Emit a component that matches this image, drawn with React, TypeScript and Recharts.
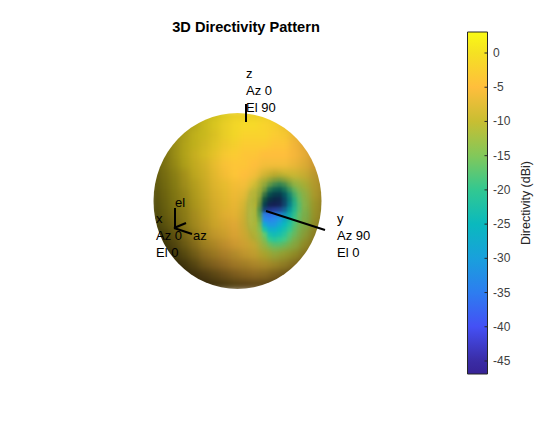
import {
  Bar,
  ComposedChart,
  ReferenceLine,
  Scatter,
  ScatterChart,
  XAxis,
  YAxis,
} from 'recharts';

const WIDTH = 560;
const HEIGHT = 421;

// screen-space sample positions of the surface picture
const sampleCols = [155, 165, 175, 185, 195, 205, 215, 225, 235, 245, 255, 265, 275, 285, 295, 305, 315, 325];
const sampleRows = [115, 125, 135, 145, 155, 165, 175, 185, 195, 205, 215, 225, 235, 245, 255, 265, 275, 285];

// directivity, dBi
const directivity = [
  [0, 0, 0, 0, 0, 0, 0, 0, -1, -1, -1, -1, -2, -2, -3, -3, -4, -4],
  [0, 0, 0, 0, 0, 0, 0, -1, -1, -1, -1, -2, -2, -3, -3, -4, -4, -4],
  [0, 0, 0, 0, 0, 0, -1, -1, -1, -2, -2, -2, -3, -3, -4, -4, -5, -5],
  [0, 0, 0, 0, 0, -1, -1, -2, -2, -3, -3, -3, -4, -4, -5, -5, -5, -5],
  [0, 0, 0, 0, -1, -1, -2, -3, -3, -4, -4, -5, -5, -5, -5, -5, -5, -5],
  [0, 0, 0, 0, -1, -2, -3, -4, -4, -4, -5, -6, -6, -6, -6, -6, -5, -5],
  [0, 0, 0, -1, -1, -2, -3, -4, -4, -5, -6, -8, -9, -9, -9, -8, -7, -6],
  [0, 0, 0, -1, -1, -2, -3, -3, -4, -6, -9, -13, -15, -14, -13, -11, -8, -7],
  [0, 0, 0, -1, -1, -2, -3, -3, -4, -7, -12, -20, -24, -22, -18, -13, -9, -7],
  [0, 0, 0, -1, -1, -2, -3, -3, -4, -8, -15, -29, -38, -30, -21, -14, -10, -8],
  [0, 0, -1, -1, -2, -2, -3, -4, -4, -8, -16, -33, -42, -28, -21, -15, -10, -8],
  [0, 0, -1, -1, -2, -3, -3, -4, -5, -8, -14, -26, -28, -22, -18, -14, -10, -8],
  [0, -1, -1, -2, -2, -3, -4, -4, -5, -7, -11, -18, -21, -19, -16, -12, -9, -7],
  [-1, -1, -2, -2, -3, -3, -4, -5, -5, -6, -8, -13, -16, -15, -13, -10, -8, -6],
  [-1, -1, -2, -2, -3, -4, -4, -5, -6, -6, -7, -10, -12, -11, -10, -8, -6, -6],
  [-1, -2, -2, -3, -3, -4, -5, -5, -5, -6, -6, -7, -8, -8, -7, -6, -6, -5],
  [-2, -2, -3, -3, -4, -4, -4, -5, -5, -5, -5, -6, -6, -6, -6, -5, -5, -5],
  [-2, -2, -3, -3, -4, -4, -4, -4, -4, -5, -5, -5, -5, -5, -5, -5, -5, -5],
];

// surface lighting, percent of full brightness
const lighting = [
  [52, 56, 62, 68, 74, 80, 85, 90, 95, 95, 95, 95, 95, 92, 88, 82, 76, 72],
  [48, 54, 62, 68, 74, 82, 88, 94, 98, 100, 100, 100, 98, 94, 88, 82, 76, 72],
  [46, 52, 62, 70, 78, 82, 88, 94, 98, 100, 100, 100, 100, 98, 92, 86, 78, 72],
  [46, 52, 62, 72, 78, 84, 90, 95, 98, 100, 100, 100, 100, 100, 95, 88, 80, 72],
  [44, 50, 62, 72, 80, 86, 92, 98, 100, 100, 100, 100, 100, 100, 96, 90, 80, 72],
  [42, 50, 60, 70, 78, 84, 92, 98, 100, 100, 100, 100, 100, 100, 96, 90, 80, 72],
  [40, 48, 56, 66, 76, 82, 90, 96, 100, 100, 100, 95, 90, 95, 96, 90, 80, 70],
  [38, 46, 54, 64, 72, 80, 88, 92, 96, 100, 100, 80, 60, 70, 92, 90, 80, 70],
  [36, 44, 52, 60, 70, 78, 86, 90, 94, 98, 90, 55, 35, 55, 88, 90, 80, 68],
  [34, 42, 50, 58, 68, 76, 84, 88, 92, 95, 85, 60, 40, 60, 88, 90, 78, 66],
  [32, 40, 48, 56, 66, 74, 82, 88, 90, 92, 90, 100, 100, 90, 90, 88, 76, 64],
  [28, 36, 44, 54, 64, 72, 80, 84, 88, 90, 92, 100, 100, 100, 95, 85, 72, 60],
  [24, 30, 38, 48, 58, 68, 76, 80, 85, 88, 90, 95, 100, 100, 92, 80, 66, 55],
  [20, 25, 32, 42, 52, 62, 68, 74, 80, 84, 88, 92, 95, 92, 85, 72, 60, 50],
  [18, 20, 26, 34, 44, 54, 60, 66, 72, 78, 82, 85, 85, 80, 72, 60, 50, 45],
  [16, 18, 20, 26, 34, 44, 50, 56, 62, 66, 70, 72, 70, 64, 55, 46, 40, 36],
  [14, 16, 18, 20, 25, 30, 36, 42, 48, 52, 55, 55, 50, 45, 38, 32, 28, 28],
  [12, 14, 16, 18, 20, 22, 26, 30, 34, 36, 38, 38, 34, 30, 26, 23, 20, 20],
];

// finer samples around the null
const nullCols = [250, 255, 260, 265, 270, 275, 280, 285, 290, 295, 300, 305];
const nullRows = [175, 180, 185, 190, 195, 200, 205, 210, 215, 220, 225, 230, 235, 240, 245, 250];

const nullDirectivity = [
  [-6, -7, -8, -9, -10, -10, -11, -11, -10, -9, -9, -8],
  [-6, -7, -9, -10, -12, -13, -14, -13, -12, -11, -10, -9],
  [-7, -8, -10, -12, -15, -17, -18, -17, -15, -13, -12, -10],
  [-7, -9, -11, -14, -19, -22, -23, -21, -18, -16, -13, -11],
  [-7, -9, -12, -17, -24, -28, -29, -26, -22, -18, -15, -12],
  [-8, -10, -13, -21, -30, -34, -35, -30, -24, -20, -16, -13],
  [-8, -10, -14, -28, -37, -38, -37, -32, -26, -21, -17, -13],
  [-8, -11, -16, -34, -38, -38, -36, -31, -25, -21, -17, -13],
  [-8, -11, -16, -34, -36, -35, -33, -29, -24, -20, -16, -13],
  [-8, -11, -15, -33, -34, -33, -31, -27, -23, -19, -16, -12],
  [-8, -10, -15, -28, -31, -31, -28, -25, -22, -18, -15, -12],
  [-8, -10, -14, -22, -27, -27, -25, -23, -20, -17, -14, -11],
  [-7, -9, -12, -17, -23, -24, -23, -21, -18, -16, -13, -11],
  [-7, -9, -11, -15, -20, -21, -20, -19, -17, -14, -12, -10],
  [-7, -8, -10, -13, -17, -18, -18, -17, -15, -13, -11, -9],
  [-6, -7, -9, -11, -14, -15, -15, -14, -13, -11, -9, -8],
];

const nullLighting = [
  [100, 100, 100, 100, 95, 92, 90, 90, 92, 94, 95, 92],
  [100, 100, 100, 95, 88, 82, 80, 82, 88, 92, 94, 92],
  [100, 100, 97, 88, 75, 68, 65, 70, 80, 90, 94, 92],
  [100, 100, 92, 75, 58, 50, 48, 58, 74, 88, 94, 92],
  [100, 98, 85, 58, 42, 36, 36, 48, 68, 85, 94, 92],
  [100, 95, 78, 42, 32, 30, 32, 45, 65, 85, 94, 92],
  [100, 95, 72, 38, 34, 34, 36, 48, 70, 88, 94, 92],
  [100, 95, 72, 50, 55, 60, 60, 65, 80, 92, 94, 90],
  [100, 95, 78, 95, 95, 95, 90, 85, 90, 95, 94, 88],
  [100, 95, 85, 100, 100, 100, 100, 95, 95, 98, 92, 86],
  [100, 95, 92, 100, 100, 100, 100, 100, 100, 96, 90, 84],
  [100, 95, 95, 100, 100, 100, 100, 100, 100, 94, 88, 80],
  [100, 95, 95, 100, 100, 100, 100, 100, 98, 92, 85, 76],
  [95, 95, 95, 95, 100, 100, 100, 100, 95, 88, 80, 72],
  [92, 92, 92, 92, 95, 95, 95, 92, 88, 82, 74, 66],
  [88, 88, 88, 88, 90, 90, 88, 85, 80, 74, 66, 60],
];

const colorbarTicks = [0, -5, -10, -15, -20, -25, -30, -35, -40, -45];
const colorbarMax = 3.07;
const colorbarMin = -46.9;

// colormap
const mapValues = [3.07, 0, -5, -10, -15, -20, -25, -30, -35, -40, -45, -46.9];
const mapColors = [
  [250, 250, 20],
  [245, 225, 35],
  [255, 190, 60],
  [200, 190, 50],
  [130, 200, 90],
  [50, 200, 145],
  [10, 185, 190],
  [25, 160, 220],
  [45, 125, 240],
  [68, 80, 245],
  [58, 44, 165],
  [55, 35, 150],
];

const axisLines = [
  { from: [246, 104], to: [246, 122] },
  { from: [266, 211], to: [325, 230] },
  { from: [175, 228], to: [175, 208] },
  { from: [174, 228], to: [192, 234] },
  { from: [174, 228], to: [186, 223] },
];

const axisLabels = [
  { x: 246, y: 78, text: 'z' },
  { x: 246, y: 95, text: 'Az 0' },
  { x: 246, y: 112, text: 'El 90' },
  { x: 337, y: 223, text: 'y' },
  { x: 337, y: 240, text: 'Az 90' },
  { x: 337, y: 257, text: 'El 0' },
  { x: 156, y: 223, text: 'x' },
  { x: 156, y: 240, text: 'Az 0' },
  { x: 156, y: 257, text: 'El 0' },
  { x: 175, y: 207, text: 'el' },
  { x: 193, y: 240, text: 'az' },
];

const surfaceCells = sampleRows.flatMap((y, r) =>
  sampleCols.map((x, c) => ({ x, y, db: directivity[r][c], light: lighting[r][c] })),
);

const nullCells = nullRows.flatMap((y, r) =>
  nullCols.map((x, c) => ({ x, y, db: nullDirectivity[r][c], light: nullLighting[r][c] })),
);

const colorbarData = [{ name: 'Directivity', range: [colorbarMin, colorbarMax] }];

function colorFor(db: number, light = 100) {
  let i = 0;
  while (i < mapValues.length - 2 && db < mapValues[i + 1]) i++;
  const t = Math.min(1, Math.max(0, (mapValues[i] - db) / (mapValues[i] - mapValues[i + 1])));
  const rgb = mapColors[i].map((v, k) => Math.round((v + (mapColors[i + 1][k] - v) * t) * (light / 100)));
  return `rgb(${rgb.join(',')})`;
}

// eslint-disable-next-line @typescript-eslint/no-explicit-any
function SurfaceCell({ cx, cy, payload }: any) {
  return <rect x={cx - 5.5} y={cy - 5.5} width={11} height={11} fill={colorFor(payload.db, payload.light)} />;
}

// eslint-disable-next-line @typescript-eslint/no-explicit-any
function NullCell({ cx, cy, payload }: any) {
  return <rect x={cx - 3} y={cy - 3} width={6} height={6} fill={colorFor(payload.db, payload.light)} />;
}

// eslint-disable-next-line @typescript-eslint/no-explicit-any
function LabelMark({ cx, cy, payload }: any) {
  return (
    <text x={cx} y={cy} fontSize={13} fontFamily="Liberation Sans" fill="#000">
      {payload.text}
    </text>
  );
}

// eslint-disable-next-line @typescript-eslint/no-explicit-any
function ColorbarTick({ x, y, payload }: any) {
  return (
    <g>
      <line x1={x - 11} x2={x - 8} y1={y} y2={y} stroke="#262626" />
      <text x={x - 2.5} y={y + 4} fontSize={12} fontFamily="Liberation Sans" fill="#404040">
        {payload.value}
      </text>
    </g>
  );
}

function canvasAxes() {
  return [
    <XAxis key="x" hide type="number" dataKey="x" domain={[0, WIDTH]} />,
    <YAxis key="y" hide type="number" dataKey="y" domain={[0, HEIGHT]} reversed />,
  ];
}

const layer = { position: 'absolute', left: 0, top: 0, width: WIDTH, height: HEIGHT } as const;
const noMargin = { top: 0, right: 0, bottom: 0, left: 0 };
const nullMask = 'radial-gradient(ellipse 31px 41px at 277px 212px, #000 70%, transparent 100%)';

export default function App() {
  return (
    <div style={{ ...layer, background: '#fff', overflow: 'hidden' }}>
      <div style={{ ...layer, clipPath: 'ellipse(84px 88px at 237.5px 201px)' }}>
        <div style={{ ...layer, filter: 'blur(3px)' }}>
          <ScatterChart width={WIDTH} height={HEIGHT} margin={noMargin}>
            {canvasAxes()}
            <Scatter data={surfaceCells} shape={SurfaceCell} isAnimationActive={false} />
          </ScatterChart>
        </div>
        <div style={{ ...layer, WebkitMaskImage: nullMask, maskImage: nullMask }}>
          <div style={{ ...layer, filter: 'blur(1.5px)' }}>
            <ScatterChart width={WIDTH} height={HEIGHT} margin={noMargin}>
              {canvasAxes()}
              <Scatter data={nullCells} shape={NullCell} isAnimationActive={false} />
            </ScatterChart>
          </div>
        </div>
      </div>

      <div style={layer}>
        <ComposedChart
          width={WIDTH}
          height={HEIGHT}
          data={colorbarData}
          margin={{ top: 32, right: 0, bottom: 47, left: 467.5 }}
          barCategoryGap={0}
        >
          <defs>
            <linearGradient id="parulaBar" x1="0" y1="0" x2="0" y2="1">
              {mapValues.map((v) => (
                <stop
                  key={v}
                  offset={(colorbarMax - v) / (colorbarMax - colorbarMin)}
                  stopColor={colorFor(v)}
                />
              ))}
            </linearGradient>
          </defs>
          <XAxis dataKey="name" hide />
          <YAxis
            orientation="right"
            width={72.5}
            domain={[colorbarMin, colorbarMax]}
            ticks={colorbarTicks}
            interval={0}
            tick={ColorbarTick}
            axisLine={false}
            tickLine={false}
            label={{
              value: 'Directivity (dBi)',
              angle: -90,
              position: 'insideRight',
              offset: 34,
              fontSize: 12.5,
              fontFamily: 'Liberation Sans',
              fill: '#262626',
              style: { textAnchor: 'middle' },
            }}
          />
          <Bar dataKey="range" fill="url(#parulaBar)" stroke="#262626" strokeWidth={1} isAnimationActive={false} />
        </ComposedChart>
      </div>

      <div style={layer}>
        <ScatterChart width={WIDTH} height={HEIGHT} margin={noMargin}>
          {canvasAxes()}
          {axisLines.map((l, i) => (
            <ReferenceLine
              key={i}
              segment={[
                { x: l.from[0], y: l.from[1] },
                { x: l.to[0], y: l.to[1] },
              ]}
              stroke="#000"
              strokeWidth={2}
              ifOverflow="visible"
            />
          ))}
          <Scatter data={axisLabels} shape={LabelMark} isAnimationActive={false} />
          <text
            x={246}
            y={32}
            textAnchor="middle"
            fontSize={14.6}
            fontWeight="bold"
            fontFamily="Liberation Sans"
            fill="#000"
          >
            3D Directivity Pattern
          </text>
        </ScatterChart>
      </div>
    </div>
  );
}
